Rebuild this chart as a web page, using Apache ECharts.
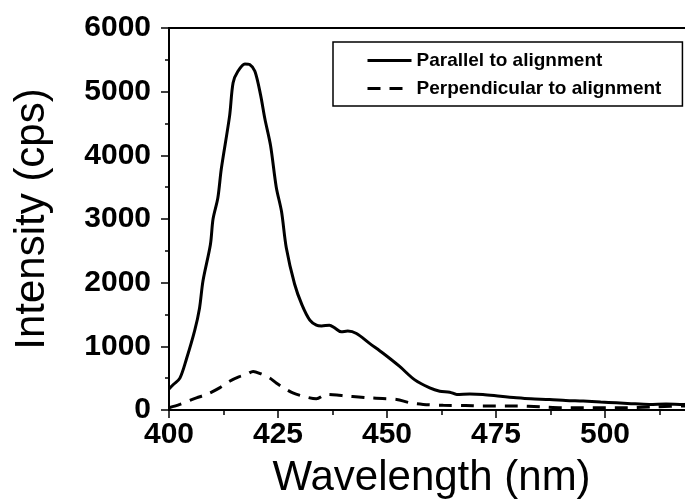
<!DOCTYPE html>
<html>
<head>
<meta charset="utf-8">
<script src="https://cdn.jsdelivr.net/npm/echarts@6/dist/echarts.min.js"></script>
<style>
  html, body { margin: 0; padding: 0; background: #fff; overflow: hidden; }
  /* wider than the window: the figure is cropped at its right edge */
  #chart { width: 714px; height: 504px; }
</style>
</head>
<body>
<div id="chart"></div>
<script>
// wavelength (nm) / intensity (cps)
const parallelWl = [400, 401, 402.5, 404, 405.9, 407, 407.8, 409.5, 410.1, 411.2, 412, 413.9, 414.7, 415.8, 417.4, 418.5, 419.7, 421, 422, 423.3, 424.6, 425.8, 426.9, 428.8, 430.5, 432.3, 433.8, 435, 436.8, 438, 439.5, 441, 443, 446, 449.1, 452.9, 456.3, 459.8, 462.1, 464.4, 466, 469, 472, 476, 479.7, 483, 487.3, 491, 495, 499, 502.6, 506, 510.2, 514, 518, 520];
const parallelVal = [330, 400, 500, 800, 1250, 1600, 2031, 2600, 3000, 3330, 3790, 4620, 5140, 5320, 5436, 5425, 5320, 4950, 4570, 4150, 3500, 3120, 2549, 1979, 1650, 1410, 1332, 1320, 1332, 1290, 1228, 1240, 1202, 1046, 891, 684, 477, 347, 295, 280, 244, 250, 244, 215, 191, 175, 166, 150, 140, 125, 114, 100, 88, 95, 88, 90];

const perpWl = [400, 402.5, 406.3, 408.6, 411.6, 413.9, 416, 417.7, 419.3, 421, 423.1, 424.6, 426.5, 428.4, 430.7, 433.8, 436.1, 438.5, 440.7, 443.5, 446, 449, 452.2, 455.2, 458.3, 462.9, 468, 472, 479.7, 485, 490, 495, 505, 512, 518, 520];
const perpVal = [36, 88, 191, 244, 347, 451, 520, 555, 606, 570, 502, 424, 340, 269, 218, 176, 244, 235, 218, 205, 191, 180, 166, 114, 88, 73, 70, 62, 62, 50, 36, 36, 36, 50, 62, 62];

const seriesNames = ['Parallel to alignment', 'Perpendicular to alignment'];

const font = '"Liberation Sans", Arial, Helvetica, sans-serif';

const chart = echarts.init(document.getElementById('chart'));

const option = {
  animation: false,
  backgroundColor: '#fff',
  grid: {
    left: 169,
    right: 0,
    top: 28,
    bottom: 90,
    show: true,
    borderColor: '#000',
    borderWidth: 2
  },
  legend: {
    orient: 'vertical',
    left: 333,
    top: 42,
    itemWidth: 44,
    itemHeight: 14,
    itemGap: 9,
    padding: [9, 21, 8, 33],
    borderColor: '#000',
    borderWidth: 1.5,
    borderRadius: 0,
    data: seriesNames,
    itemStyle: { opacity: 0 },
    lineStyle: { width: 3 },
    textStyle: {
      fontFamily: font,
      fontSize: 19,
      fontWeight: 'bold',
      color: '#000'
    }
  },
  xAxis: {
    type: 'value',
    min: 400,
    max: 525,
    interval: 25,
    name: 'Wavelength (nm)',
    nameLocation: 'middle',
    nameGap: 47,
    nameTextStyle: { fontFamily: font, fontSize: 42, color: '#000', padding: [0, 20, 0, 0] },
    axisLine: { lineStyle: { color: '#000', width: 2 } },
    axisTick: { length: 8, lineStyle: { color: '#000', width: 1.5 } },
    minorTick: { show: true, splitNumber: 2, length: 5, lineStyle: { color: '#000', width: 1.5 } },
    splitLine: { show: false },
    axisLabel: {
      fontFamily: font, fontSize: 30, fontWeight: 'bold', color: '#000', margin: 10,
      showMaxLabel: false
    }
  },
  yAxis: {
    type: 'value',
    min: 0,
    max: 6000,
    interval: 1000,
    name: 'Intensity (cps)',
    nameLocation: 'middle',
    nameGap: 116,
    nameTextStyle: { fontFamily: font, fontSize: 42, color: '#000' },
    axisLine: { show: true, lineStyle: { color: '#000', width: 2 } },
    axisTick: { show: true, length: 8, lineStyle: { color: '#000', width: 1.5 } },
    minorTick: { show: true, splitNumber: 2, length: 4, lineStyle: { color: '#000', width: 1.5 } },
    splitLine: { show: false },
    axisLabel: {
      fontFamily: font, fontSize: 30, fontWeight: 'bold', color: '#000', margin: 18,
      formatter: v => String(v)
    }
  },
  series: [
    {
      name: seriesNames[0],
      type: 'line',
      data: parallelWl.map((x, i) => [x, parallelVal[i]]),
      symbol: 'none',
      smooth: 0.3,
      lineStyle: { color: '#000', width: 3 },
      itemStyle: { color: '#000' }
    },
    {
      name: seriesNames[1],
      type: 'line',
      data: perpWl.map((x, i) => [x, perpVal[i]]),
      symbol: 'none',
      smooth: 0.3,
      lineStyle: { color: '#000', width: 3, type: [13, 9] },
      itemStyle: { color: '#000' }
    }
  ]
};

chart.setOption(option);
</script>
</body>
</html>
